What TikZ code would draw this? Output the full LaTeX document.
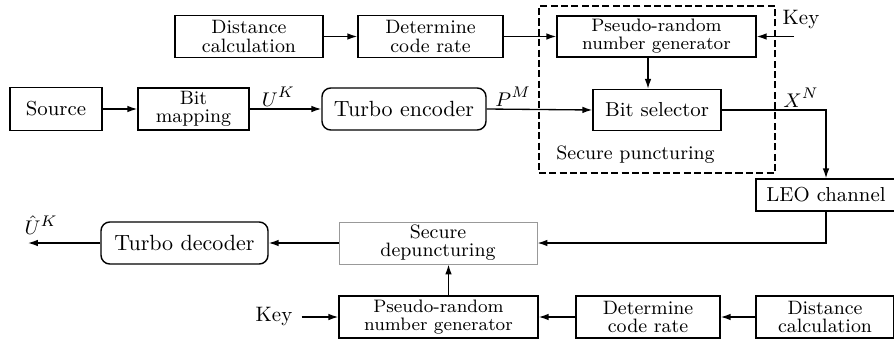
\documentclass[tikz,border=0pt]{standalone}
\usetikzlibrary{arrows.meta,calc}
\newcommand{\pxl}[1]{#1*0.4545pt}
\begin{document}
\begin{tikzpicture}[x=0.4545pt,y=-0.4545pt,
  blk/.style={draw, line width=0.65pt, inner sep=0pt, align=center},
  rnd/.style={blk, rounded corners=4pt},
  fA/.style={font=\fontsize{8.8}{8.2}\selectfont},
  fP/.style={font=\fontsize{8.2}{8.2}\selectfont},
  fB/.style={font=\fontsize{9.2}{10}\selectfont},
  fT/.style={font=\fontsize{10}{11}\selectfont},
  lbl/.style={inner sep=1pt, font=\fontsize{9.5}{11}\selectfont},
  arr/.style={-{Latex[length=4.5pt,width=3pt]}, line width=0.6pt},
  sz/.style 2 args={minimum width=\pxl{#1}, minimum height=\pxl{#2}}]
\useasboundingbox (0,0) rectangle (894,339);
% top row
\node[blk,fA,sz={148}{42}] (dist1) at (249,36.5) {Distance\\calculation};
\node[blk,fA,sz={145}{42}] (rate1) at (430.5,36.5) {Determine\\code rate};
\node[blk,fP,sz={199}{41}] (prng1) at (656.5,36.5) {Pseudo-random\\number generator};
% middle row
\node[blk,fB,sz={92}{43}] (source) at (56,109) {Source};
\node[blk,fA,sz={111}{42}] (bitmap) at (193.5,109) {Bit\\mapping};
\node[rnd,fT,sz={164}{42}] (tenc) at (404,109) {Turbo encoder};
\node[blk,fB,sz={128}{41}] (bitsel) at (657,110) {Bit selector};
\node[draw, line width=0.65pt, dash pattern=on 3.2pt off 1.5pt, inner sep=0pt, sz={236}{167}] (sp) at (657,89.5) {};
\node[fA, inner sep=0pt] (splbl) at (635.5,155) {Secure puncturing};
\node[lbl] (keyt) at (801,20) {Key};
\coordinate (keyin) at (794,36.5);
\node[blk,fB,sz={140}{32}] (leo) at (826,195) {LEO channel};
% lower rows
\node[blk,fA,sz={198}{42},draw=black!40,line width=0.45pt] (depunct) at (438,243) {Secure\\depuncturing};
\node[rnd,fT,sz={167}{42}] (tdec) at (184.5,243) {Turbo decoder};
\coordinate (out) at (28,243);
\node[lbl] (uhat) at (41,225) {$\hat{U}^{K}$};
\node[blk,fP,sz={199}{42}] (prng2) at (438.5,317) {Pseudo-random\\number generator};
\node[blk,fA,sz={144}{42}] (rate2) at (648,317) {Determine\\code rate};
\node[blk,fA,sz={138}{42}] (dist2) at (825,317) {Distance\\calculation};
\node[lbl] (keyb) at (274,316) {Key};
% connectors
\draw[arr] (dist1.east) -- (rate1.west);
\draw[arr] (rate1.east) -- (prng1.west);
\draw[arr] (keyin) -- (prng1.east);
\draw[arr] ($(prng1.south)+(-8.5,0)$) -- ($(bitsel.north)+(-9,0)$);
\draw[arr] (source.east) -- (bitmap.west);
\draw[arr] (bitmap.east) -- node[lbl, above, pos=0.4] (uk) {$U^K$} (tenc.west);
\draw[arr] (tenc.east) -- node[lbl, above, pos=0.25] (pm) {$P^M$} (bitsel.west);
\draw[arr] (bitsel.east) -| node[lbl, above, pos=0.38] (xn) {$X^N$} (leo.north);
\draw[arr] (leo.south) |- (depunct.east);
\draw[arr] (depunct.west) -- (tdec.east);
\draw[arr] (tdec.west) -- (out);
\draw[arr] ($(prng2.north)+(10,0)$) -- ($(depunct.south)+(10.5,0)$);
\draw[arr] (rate2.west) -- (prng2.east);
\draw[arr] (dist2.west) -- (rate2.east);
\draw[arr] ([xshift=3pt]keyb.east |- prng2.west) -- (prng2.west);
\end{tikzpicture}
\end{document}
